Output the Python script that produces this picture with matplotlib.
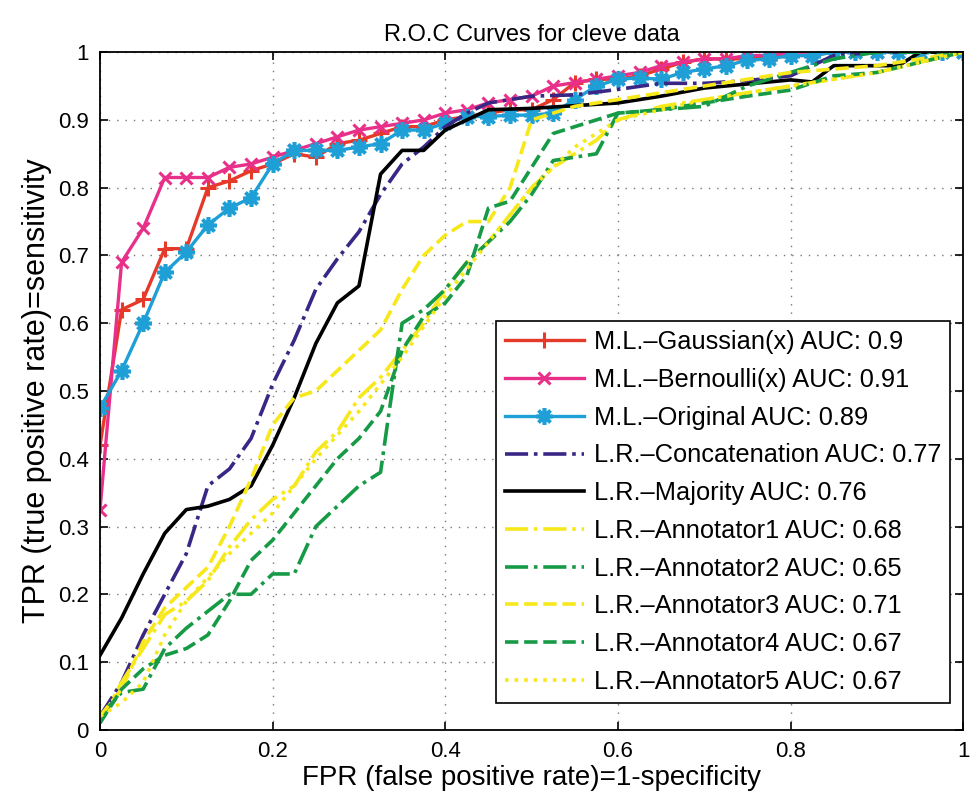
import numpy as np
import matplotlib
matplotlib.use("Agg")
import matplotlib.pyplot as plt

plt.rcParams['font.family'] = ['Liberation Sans', 'DejaVu Sans']

# M.L. curves share a common FPR grid
ml_fpr = [0, .025, .05, .075, .1, .125, .15, .175, .2, .225, .25, .275, .3, .325,
          .35, .375, .4, .425, .45, .475, .5, .525, .55, .575, .6, .625, .65, .675,
          .7, .725, .75, .775, .8, .825, .85, .875, .9, .925, .95, .975, 1]
gauss_tpr = [0.42, 0.62, 0.635, 0.71, 0.71, 0.80, 0.81, 0.825, 0.835, 0.85, 0.845,
             0.865, 0.87, 0.88, 0.89, 0.89, 0.90, 0.905, 0.91, 0.915, 0.915, 0.93,
             0.955, 0.96, 0.96, 0.965, 0.975, 0.985, 0.99, 0.99, 0.99, 0.995, 0.995,
             0.995, 1, 1, 1, 1, 1, 1, 1]
bern_tpr = [0.325, 0.69, 0.74, 0.815, 0.815, 0.815, 0.83, 0.835, 0.845, 0.855, 0.865,
            0.875, 0.885, 0.89, 0.895, 0.90, 0.91, 0.915, 0.925, 0.93, 0.935, 0.95,
            0.955, 0.96, 0.965, 0.97, 0.98, 0.985, 0.99, 0.99, 0.995, 0.995, 1, 1,
            1, 1, 1, 1, 1, 1, 1]
orig_tpr = [0.475, 0.53, 0.60, 0.675, 0.705, 0.745, 0.77, 0.785, 0.835, 0.855, 0.855,
            0.855, 0.86, 0.865, 0.885, 0.885, 0.895, 0.905, 0.905, 0.907, 0.907, 0.91,
            0.93, 0.95, 0.96, 0.962, 0.96, 0.97, 0.975, 0.98, 0.988, 0.99, 0.995,
            0.995, 1, 1, 1, 1, 1, 1, 1]

conc_fpr = [0, .025, .05, .075, .1, .125, .15, .175, .2, .225, .25, .275, .3, .325,
            .35, .375, .4, .425, .45, .5, .55, .6, .65, .7, .75, .8, .825, .85, .9, 1]
conc_tpr = [0.02, 0.07, 0.14, 0.2, 0.26, 0.36, 0.385, 0.43, 0.51, 0.575, 0.65, 0.695,
            0.735, 0.79, 0.835, 0.86, 0.89, 0.91, 0.925, 0.935, 0.937, 0.945, 0.954,
            0.954, 0.958, 0.965, 0.98, 0.995, 1, 1]

maj_fpr = [0, .025, .05, .075, .1, .125, .15, .175, .2, .225, .25, .275, .3, .325,
           .35, .375, .4, .425, .45, .5, .6, .65, .7, .8, .825, .85, .925, .95, 1]
maj_tpr = [0.11, 0.165, 0.23, 0.29, 0.325, 0.33, 0.34, 0.36, 0.42, 0.49, 0.57, 0.63,
           0.655, 0.82, 0.855, 0.855, 0.885, 0.90, 0.915, 0.917, 0.925, 0.935, 0.947,
           0.959, 0.956, 0.98, 0.98, 1.0, 1.0]

ann1_fpr = [0, .025, .05, .075, .1, .125, .15, .175, .2, .225, .25, .275, .3, .325,
            .35, .375, .4, .425, .45, .475, .5, .525, .55, .575, .6, .65, .7, .8, .9, 1]
ann1_tpr = [0.01, 0.07, 0.12, 0.17, 0.19, 0.22, 0.27, 0.31, 0.34, 0.36, 0.41, 0.44,
            0.49, 0.52, 0.56, 0.60, 0.65, 0.69, 0.72, 0.76, 0.80, 0.83, 0.85, 0.87,
            0.90, 0.92, 0.93, 0.95, 0.97, 1]

ann2_fpr = [0, .025, .05, .075, .1, .125, .15, .175, .2, .225, .25, .275, .3, .325,
            .335, .35, .375, .4, .425, .45, .475, .5, .525, .55, .575, .6, .65, .7,
            .75, .8, .85, .9, 1]
ann2_tpr = [0.02, 0.055, 0.06, 0.12, 0.15, 0.175, 0.20, 0.20, 0.23, 0.23, 0.30, 0.33,
            0.36, 0.38, 0.47, 0.60, 0.62, 0.65, 0.69, 0.72, 0.75, 0.79, 0.84, 0.845,
            0.85, 0.91, 0.915, 0.92, 0.95, 0.97, 0.99, 1.0, 1]

ann3_fpr = [0, .025, .05, .075, .1, .125, .15, .175, .2, .225, .25, .275, .3, .325,
            .35, .375, .4, .425, .45, .475, .5, .55, .6, .65, .7, .75, .8, .9, 1]
ann3_tpr = [0.02, 0.06, 0.13, 0.18, 0.21, 0.24, 0.30, 0.37, 0.45, 0.49, 0.50, 0.53,
            0.56, 0.59, 0.65, 0.70, 0.73, 0.75, 0.75, 0.80, 0.90, 0.92, 0.93, 0.94,
            0.95, 0.96, 0.97, 0.98, 1]

ann4_fpr = [0, .025, .05, .075, .1, .125, .15, .175, .2, .225, .25, .275, .3, .325,
            .35, .375, .4, .425, .45, .475, .5, .525, .55, .575, .6, .65, .7, .75,
            .8, .85, .9, .95, 1]
ann4_tpr = [0.01, 0.06, 0.09, 0.11, 0.12, 0.14, 0.19, 0.25, 0.28, 0.32, 0.36, 0.40,
            0.43, 0.47, 0.56, 0.61, 0.63, 0.67, 0.77, 0.78, 0.83, 0.88, 0.89, 0.90,
            0.91, 0.915, 0.925, 0.935, 0.944, 0.965, 0.97, 0.985, 1]

ann5_fpr = [0, .025, .05, .075, .1, .15, .2, .25, .3, .35, .4, .45, .5, .55, .6, .7,
            .8, .9, 1]
ann5_tpr = [0.02, 0.04, 0.07, 0.14, 0.19, 0.26, 0.32, 0.40, 0.47, 0.55, 0.64, 0.72,
            0.80, 0.86, 0.90, 0.93, 0.95, 0.97, 1]

labels = ["M.L.\u2013Gaussian(x) AUC: 0.9", "M.L.\u2013Bernoulli(x) AUC: 0.91",
          "M.L.\u2013Original AUC: 0.89", "L.R.\u2013Concatenation AUC: 0.77",
          "L.R.\u2013Majority AUC: 0.76", "L.R.\u2013Annotator1 AUC: 0.68",
          "L.R.\u2013Annotator2 AUC: 0.65", "L.R.\u2013Annotator3 AUC: 0.71",
          "L.R.\u2013Annotator4 AUC: 0.67", "L.R.\u2013Annotator5 AUC: 0.67"]

red = '#e5392a'
pink = '#e8308a'
cyan = '#1e9fd6'
purple = '#3a2785'
yellow = '#f7e81c'
green = '#179a46'

fig = plt.figure(figsize=(9.71, 8.02), dpi=100)
ax = fig.add_axes([0.103, 0.09, 0.889, 0.845])

ax.plot(ml_fpr, gauss_tpr, '-', color=red, lw=2.4, marker='+', ms=12, mew=2.2,
        label=labels[0])
ax.plot(ml_fpr, bern_tpr, '-', color=pink, lw=2.4, marker='x', ms=9, mew=2.2,
        label=labels[1])
ax.plot(ml_fpr, orig_tpr, '-', color=cyan, lw=2.4, marker=(8, 2, 0), ms=12, mew=2.6,
        label=labels[2])
ax.plot(conc_fpr, conc_tpr, '-.', color=purple, lw=2.6, label=labels[3])
ax.plot(maj_fpr, maj_tpr, '-', color='black', lw=2.6, label=labels[4])
ax.plot(ann1_fpr, ann1_tpr, '-.', color=yellow, lw=2.6, label=labels[5])
ax.plot(ann2_fpr, ann2_tpr, '-.', color=green, lw=2.6, label=labels[6])
ax.plot(ann3_fpr, ann3_tpr, '--', color=yellow, lw=2.6, label=labels[7])
ax.plot(ann4_fpr, ann4_tpr, '--', color=green, lw=2.6, label=labels[8])
ax.plot(ann5_fpr, ann5_tpr, ':', color=yellow, lw=2.6, label=labels[9])

ax.set_xlim(0, 1)
ax.set_ylim(0, 1)
ax.set_xticks(np.arange(0, 1.01, 0.2))
ax.set_yticks(np.arange(0, 1.01, 0.1))
ax.set_xticklabels(['0', '0.2', '0.4', '0.6', '0.8', '1'])
ax.set_yticklabels(['0', '0.1', '0.2', '0.3', '0.4', '0.5', '0.6', '0.7', '0.8',
                    '0.9', '1'])
ax.tick_params(direction='in', top=True, right=True, length=6, width=1.2,
               labelsize=16, pad=8)
ax.grid(True, linestyle=(0, (1, 5)), color='#777777', lw=1)
for s in ax.spines.values():
    s.set_linewidth(1.3)

ax.set_xlabel('FPR (false positive rate)=1-specificity', fontsize=20, labelpad=2)
ax.set_ylabel('TPR (true positive rate)=sensitivity', fontsize=22, labelpad=4)
ax.set_title('R.O.C Curves for cleve data', fontsize=17, pad=8)

leg = ax.legend(loc='lower right', bbox_to_anchor=(0.985, 0.04), fontsize=18.3,
                handlelength=3.1, labelspacing=0.54, borderpad=0.35,
                handletextpad=0.4, borderaxespad=0, fancybox=False, framealpha=1)
leg.get_frame().set_edgecolor('black')
leg.get_frame().set_linewidth(1.2)

fig.savefig('out.png', dpi=100)
